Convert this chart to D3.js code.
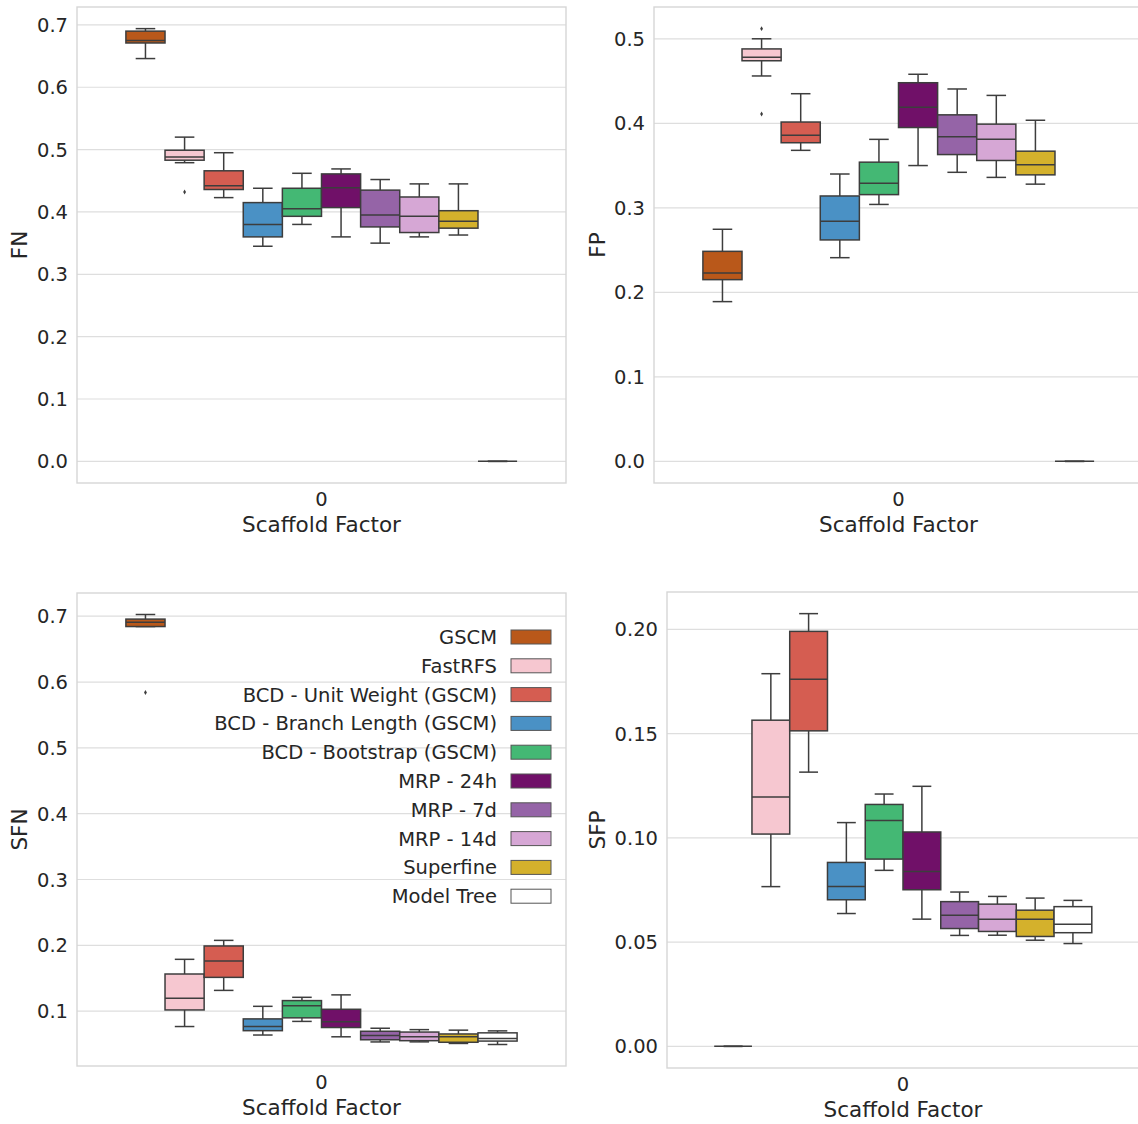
<!DOCTYPE html>
<html>
<head>
<meta charset="utf-8">
<script src="https://cdn.jsdelivr.net/npm/d3@7"></script>
<style>
  body { margin: 0; background: #fff; }
  svg text { font-family: "DejaVu Sans", sans-serif; fill: #262626; }
</style>
</head>
<body>
<svg id="chart" width="1138" height="1124"></svg>
<script>
// methods (hue groups), in legend order
const methods = ['GSCM', 'FastRFS', 'BCD - Unit Weight (GSCM)', 'BCD - Branch Length (GSCM)',
  'BCD - Bootstrap (GSCM)', 'MRP - 24h', 'MRP - 7d', 'MRP - 14d', 'Superfine', 'Model Tree'];
const colors = ['#b9581a', '#f6c7d0', '#d55d51', '#4a91c5', '#44b874',
  '#701068', '#9564a7', '#d6a7d5', '#d4b12c', '#ffffff'];
const category = ['0'];

// box stats per method: [whisker low, q1, median, q3, whisker high]
const fnStats = [
  [0.646, 0.671, 0.675, 0.690, 0.694],
  [0.479, 0.483, 0.488, 0.499, 0.520],
  [0.423, 0.436, 0.442, 0.466, 0.495],
  [0.345, 0.360, 0.380, 0.415, 0.438],
  [0.380, 0.393, 0.405, 0.438, 0.462],
  [0.360, 0.407, 0.439, 0.461, 0.469],
  [0.350, 0.376, 0.395, 0.435, 0.452],
  [0.360, 0.367, 0.393, 0.424, 0.445],
  [0.363, 0.374, 0.385, 0.402, 0.445],
  [0, 0, 0, 0, 0]
];
const fnOutliers = [[], [0.432], [], [], [], [], [], [], [], []];

const fpStats = [
  [0.189, 0.215, 0.223, 0.2485, 0.2746],
  [0.456, 0.474, 0.478, 0.488, 0.500],
  [0.368, 0.377, 0.386, 0.4015, 0.435],
  [0.241, 0.262, 0.284, 0.314, 0.340],
  [0.304, 0.3156, 0.329, 0.354, 0.381],
  [0.350, 0.395, 0.419, 0.448, 0.458],
  [0.342, 0.363, 0.384, 0.410, 0.4406],
  [0.336, 0.356, 0.381, 0.399, 0.433],
  [0.328, 0.339, 0.351, 0.367, 0.4036],
  [0, 0, 0, 0, 0]
];
const fpOutliers = [[], [0.512, 0.411], [], [], [], [], [], [], [], []];

const sfnStats = [
  [0.6843, 0.6843, 0.691, 0.6956, 0.7026],
  [0.0766, 0.1018, 0.1196, 0.1564, 0.1787],
  [0.1315, 0.1513, 0.176, 0.199, 0.2075],
  [0.0637, 0.0703, 0.0767, 0.0882, 0.1073],
  [0.0844, 0.0898, 0.1083, 0.116, 0.121],
  [0.0610, 0.0751, 0.0839, 0.1028, 0.1247],
  [0.0532, 0.0565, 0.0629, 0.0694, 0.074],
  [0.0533, 0.0551, 0.0609, 0.0682, 0.0719],
  [0.0509, 0.0527, 0.0610, 0.0653, 0.0711],
  [0.0493, 0.0545, 0.0586, 0.067, 0.070]
];
const sfnOutliers = [[0.584], [], [], [], [], [], [], [], [], []];

const sfpStats = [
  [0, 0, 0, 0, 0],
  [0.0766, 0.1018, 0.1196, 0.1564, 0.1787],
  [0.1315, 0.1513, 0.176, 0.199, 0.2075],
  [0.0637, 0.0703, 0.0767, 0.0882, 0.1073],
  [0.0844, 0.0898, 0.1083, 0.116, 0.121],
  [0.0610, 0.0751, 0.0839, 0.1028, 0.1247],
  [0.0532, 0.0565, 0.0629, 0.0694, 0.074],
  [0.0533, 0.0551, 0.0609, 0.0682, 0.0719],
  [0.0509, 0.0527, 0.0610, 0.0653, 0.0711],
  [0.0493, 0.0545, 0.0586, 0.067, 0.070]
];
const sfpOutliers = [[], [], [], [], [], [], [], [], [], []];

const fnTicks = [0, 0.1, 0.2, 0.3, 0.4, 0.5, 0.6, 0.7];
const fpTicks = [0, 0.1, 0.2, 0.3, 0.4, 0.5];
const sfnTicks = [0.1, 0.2, 0.3, 0.4, 0.5, 0.6, 0.7];
const sfpTicks = [0, 0.05, 0.1, 0.15, 0.2];

const panels = [
  { label: 'FN', stats: fnStats, outliers: fnOutliers, ticks: fnTicks, fmt: '.1f',
    x: 77, y: 7, w: 489, h: 476, ylabOff: 58 },
  { label: 'FP', stats: fpStats, outliers: fpOutliers, ticks: fpTicks, fmt: '.1f',
    x: 654, y: 7, w: 489, h: 476, ylabOff: 57 },
  { label: 'SFN', stats: sfnStats, outliers: sfnOutliers, ticks: sfnTicks, fmt: '.1f',
    x: 77, y: 593, w: 489, h: 473, ylabOff: 58, legend: true },
  { label: 'SFP', stats: sfpStats, outliers: sfpOutliers, ticks: sfpTicks, fmt: '.2f',
    x: 667, y: 592, w: 472, h: 476, ylabOff: 70 }
];

const svg = d3.select('#chart');
const edge = '#3d3d3d';
const gridColor = '#dedede';
const spineColor = '#d6d6d6';

panels.forEach(p => {
  const g = svg.append('g').attr('transform', `translate(${p.x},${p.y})`);

  // y domain like seaborn: data range plus 5% margin
  const all = p.stats.flat().concat(p.outliers.flat());
  const lo = d3.min(all), hi = d3.max(all);
  const pad = (hi - lo) * 0.05;
  const y = d3.scaleLinear().domain([lo - pad, hi + pad]).range([p.h, 0]);

  const x = d3.scaleBand().domain(category).range([0, p.w]).paddingInner(0).paddingOuter(0);
  const hue = d3.scaleBand().domain(methods).range([x.bandwidth() * 0.1, x.bandwidth() * 0.9]);
  const bw = hue.bandwidth();

  // grid
  g.append('g').selectAll('line').data(p.ticks).enter().append('line')
    .attr('x1', 0).attr('x2', p.w)
    .attr('y1', d => y(d)).attr('y2', d => y(d))
    .attr('stroke', gridColor).attr('stroke-width', 1.2);

  // y tick labels
  g.append('g').selectAll('text').data(p.ticks).enter().append('text')
    .attr('x', -9).attr('y', d => y(d)).attr('dy', '0.36em')
    .attr('text-anchor', 'end').style('font-size', '19.5px')
    .text(d => d3.format(p.fmt)(d));

  // y label
  g.append('text')
    .attr('transform', `translate(${-p.ylabOff},${p.h / 2}) rotate(-90)`)
    .attr('text-anchor', 'middle').attr('dy', '0.36em')
    .style('font-size', '21.5px').text(p.label);

  // x tick + label
  g.append('text').attr('x', x('0') + x.bandwidth() / 2).attr('y', p.h + 23)
    .attr('text-anchor', 'middle').style('font-size', '19.5px').text('0');
  g.append('text').attr('x', p.w / 2).attr('y', p.h + 49)
    .attr('text-anchor', 'middle').style('font-size', '21.5px').text('Scaffold Factor');

  // boxes
  const boxes = g.append('g').selectAll('g').data(methods).enter().append('g');
  boxes.each(function (m, i) {
    const s = p.stats[i];
    const cx = x('0') + hue(m) + bw / 2;
    const b = d3.select(this);
    // whiskers
    b.append('line').attr('x1', cx).attr('x2', cx).attr('y1', y(s[0])).attr('y2', y(s[1]))
      .attr('stroke', edge).attr('stroke-width', 1.5);
    b.append('line').attr('x1', cx).attr('x2', cx).attr('y1', y(s[3])).attr('y2', y(s[4]))
      .attr('stroke', edge).attr('stroke-width', 1.5);
    [s[0], s[4]].forEach(v => {
      b.append('line').attr('x1', cx - bw / 4).attr('x2', cx + bw / 4)
        .attr('y1', y(v)).attr('y2', y(v))
        .attr('stroke', edge).attr('stroke-width', 1.5);
    });
    // box
    b.append('rect').attr('x', hue(m)).attr('width', bw)
      .attr('y', y(s[3])).attr('height', Math.max(0, y(s[1]) - y(s[3])))
      .attr('fill', colors[i]).attr('stroke', edge).attr('stroke-width', 1.5);
    // median
    b.append('line').attr('x1', hue(m)).attr('x2', hue(m) + bw)
      .attr('y1', y(s[2])).attr('y2', y(s[2]))
      .attr('stroke', edge).attr('stroke-width', 1.5);
    // outliers
    b.selectAll('path').data(p.outliers[i]).enter().append('path')
      .attr('d', d3.symbol().type(d3.symbolDiamond).size(7))
      .attr('transform', d => `translate(${cx},${y(d)})`)
      .attr('fill', edge);
  });

  // spines
  g.append('rect').attr('x', 0).attr('y', 0).attr('width', p.w).attr('height', p.h)
    .attr('fill', 'none').attr('stroke', spineColor).attr('stroke-width', 1.4);

  if (p.legend) {
    const lg = g.append('g');
    methods.forEach((m, i) => {
      const cy = 44 + i * 28.8;
      lg.append('text').attr('x', 420).attr('y', cy).attr('dy', '0.36em')
        .attr('text-anchor', 'end').style('font-size', '19.5px').text(m);
      lg.append('rect').attr('x', 434).attr('y', cy - 7).attr('width', 40).attr('height', 14)
        .attr('fill', colors[i]).attr('stroke', '#555').attr('stroke-width', 1);
    });
  }
});
</script>
</body>
</html>
